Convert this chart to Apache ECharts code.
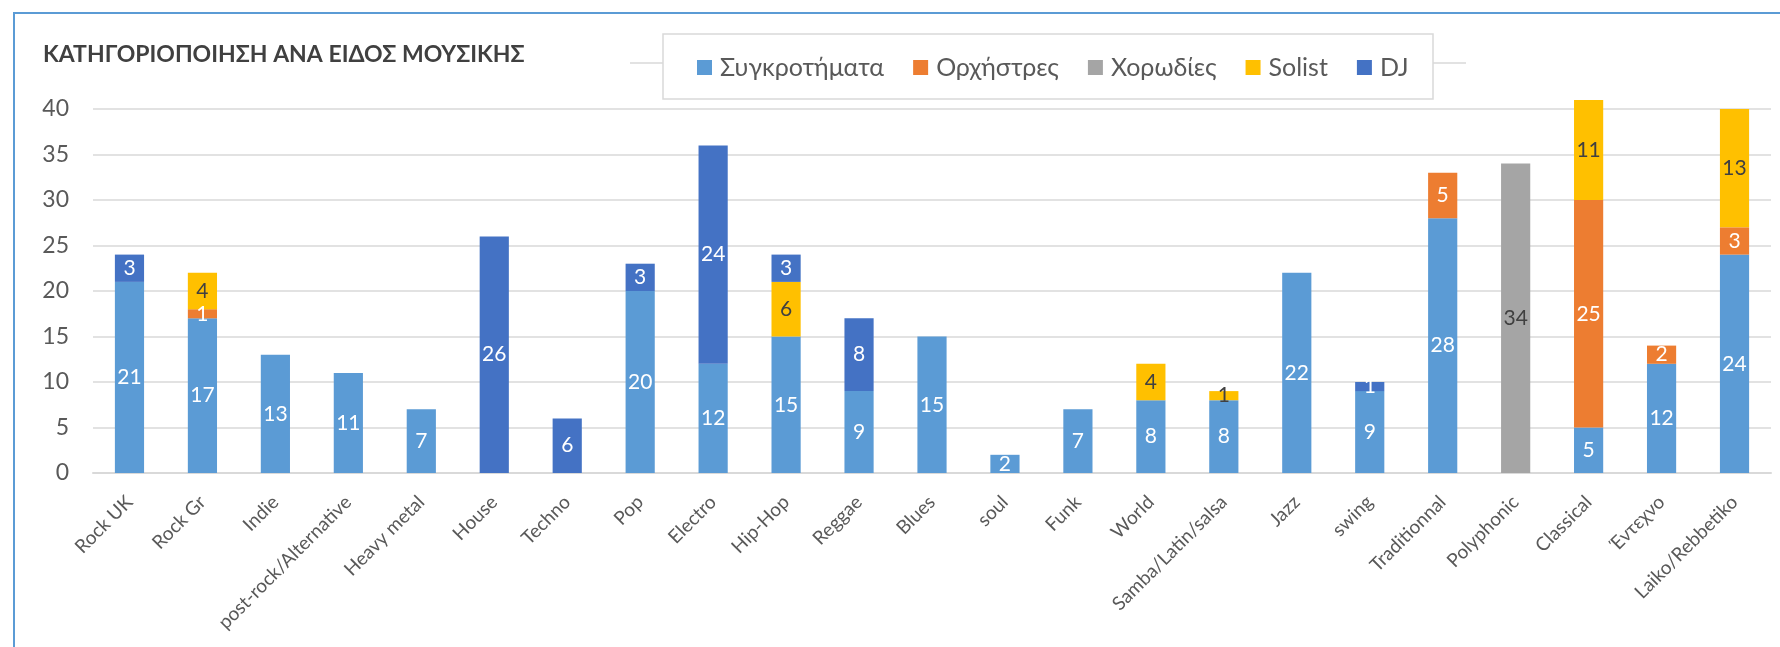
<!DOCTYPE html>
<html>
<head>
<meta charset="utf-8">
<script src="https://cdn.jsdelivr.net/npm/echarts@6/dist/echarts.min.js"></script>
<style>
  html, body { margin: 0; padding: 0; background: #fff; }
  #main { width: 1780px; height: 647px; }
</style>
</head>
<body>
<div id="main"></div>
<script>
// categories and series values
var genres = ['Rock UK', 'Rock Gr', 'Indie', 'post-rock/Alternative', 'Heavy metal', 'House', 'Techno', 'Pop',
  'Electro', 'Hip-Hop', 'Reggae', 'Blues', 'soul', 'Funk', 'World', 'Samba/Latin/salsa', 'Jazz', 'swing',
  'Traditionnal', 'Polyphonic', 'Classical', 'Έντεχνο', 'Laiko/Rebbetiko'];

var bands    = [21, 17, 13, 11, 7, null, null, 20, 12, 15, 9, 15, 2, 7, 8, 8, 22, 9, 28, null, 5, 12, 24];
var orchestras = [null, 1, null, null, null, null, null, null, null, null, null, null, null, null, null, null, null, null, 5, null, 25, 2, 3];
var choirs   = [null, null, null, null, null, null, null, null, null, null, null, null, null, null, null, null, null, null, null, 34, null, null, null];
var solist   = [null, 4, null, null, null, null, null, null, null, 6, null, null, null, null, 4, 1, null, null, null, null, 11, null, 13];
var dj       = [3, null, null, null, null, 26, 6, 3, 24, 3, 8, null, null, null, null, null, null, 1, null, null, null, null, null];

var yTicks = [0, 5, 10, 15, 20, 25, 30, 35, 40];

var FONT = 'Lato, "Open Sans", sans-serif';

var dom = document.getElementById('main');
var myChart = echarts.init(dom, null, { renderer: 'canvas' });

function mk(name, data, color, labelColor) {
    return {
        name: name,
        type: 'bar',
        stack: 'total',
        barWidth: '40%',
        clip: false,
        data: data,
        itemStyle: { color: color },
        label: {
            show: true,
            position: 'inside',
            color: labelColor,
            fontFamily: FONT,
            fontSize: 21,
            formatter: function (p) { return p.value == null ? '' : p.value; }
        }
    };
}

var option = {
    animation: false,
    textStyle: { fontFamily: FONT },
    title: {
        text: 'ΚΑΤΗΓΟΡΙΟΠΟΙΗΣΗ ΑΝΑ ΕΙΔΟΣ ΜΟΥΣΙΚΗΣ',
        left: 38,
        top: 38,
        textStyle: { fontFamily: FONT, fontSize: 23, fontWeight: 'bold', color: '#404040' }
    },
    graphic: [
        { type: 'rect', shape: { x: 14, y: 13, width: 1800, height: 700 },
          style: { fill: null, stroke: '#5B9BD5', lineWidth: 2 }, z: 0 },
        { type: 'line', shape: { x1: 630, y1: 63, x2: 1466, y2: 63 },
          style: { stroke: '#d9d9d9', lineWidth: 1.5 }, z: 1 },
        { type: 'rect', shape: { x: 663, y: 34, width: 770, height: 65 },
          style: { fill: '#fff', stroke: '#d9d9d9', lineWidth: 1.5 }, z: 2 }
    ],
    legend: {
        left: 692,
        top: 50,
        itemWidth: 15,
        itemHeight: 15,
        itemGap: 29,
        z: 10,
        icon: 'rect',
        textStyle: { fontFamily: FONT, fontSize: 25, color: '#595959', padding: [0, 0, 0, 3] },
        data: ['Συγκροτήματα', 'Ορχήστρες', 'Χορωδίες', 'Solist', 'DJ']
    },
    grid: { left: 93, right: 9, top: 109, bottom: 174, containLabel: false },
    xAxis: {
        type: 'category',
        data: genres,
        axisTick: { show: false },
        axisLine: { lineStyle: { color: '#d9d9d9', width: 2 } },
        axisLabel: { interval: 0, rotate: 45, margin: 26, fontFamily: FONT, fontSize: 19, color: '#595959' }
    },
    yAxis: {
        type: 'value',
        min: 0,
        max: 40,
        interval: 5,
        axisLine: { show: false },
        axisTick: { show: false },
        splitLine: { lineStyle: { color: '#d9d9d9', width: 1.5 } },
        axisLabel: { margin: 24, fontFamily: FONT, fontSize: 23, color: '#595959',
            formatter: function (v) { return yTicks.indexOf(v) >= 0 ? v : ''; } }
    },
    series: [
        mk('Συγκροτήματα', bands, '#5B9BD5', '#ffffff'),
        mk('Ορχήστρες', orchestras, '#ED7D31', '#ffffff'),
        mk('Χορωδίες', choirs, '#A5A5A5', '#404040'),
        mk('Solist', solist, '#FFC000', '#404040'),
        mk('DJ', dj, '#4472C4', '#ffffff')
    ]
};

if (option && typeof option === 'object') {
    myChart.setOption(option);
}
</script>
</body>
</html>
